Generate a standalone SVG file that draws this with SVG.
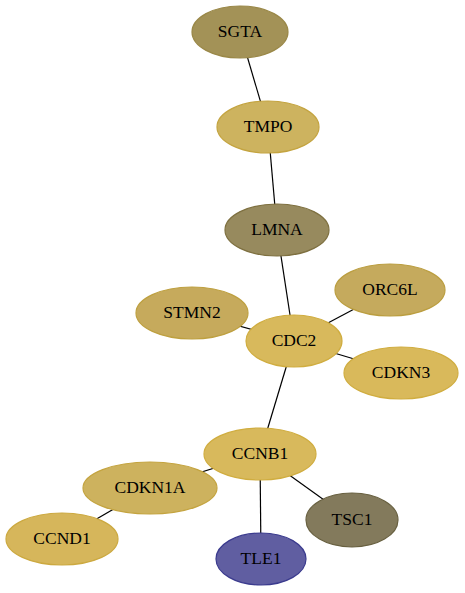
<svg xmlns="http://www.w3.org/2000/svg" width="465" height="593" viewBox="0 0 465 593">
<style>
.e{stroke:#000;stroke-width:1.2;fill:none}
.n ellipse{stroke-width:1.2}
.n text{font-family:"Liberation Serif","Times New Roman",serif;font-size:17.5px;text-anchor:middle;dominant-baseline:central;fill:#000}
</style>
<rect width="465" height="593" fill="#fff"/>
<g id="edges">
<line class="e" x1="240" y1="32" x2="268" y2="127"/>
<line class="e" x1="268" y1="127" x2="277" y2="230"/>
<line class="e" x1="277" y1="230" x2="294" y2="341"/>
<line class="e" x1="390" y1="290" x2="294" y2="341"/>
<line class="e" x1="192" y1="313" x2="294" y2="341"/>
<line class="e" x1="294" y1="341" x2="401" y2="373"/>
<line class="e" x1="294" y1="341" x2="260" y2="454"/>
<line class="e" x1="260" y1="454" x2="150" y2="488"/>
<line class="e" x1="150" y1="488" x2="62" y2="539"/>
<line class="e" x1="260" y1="454" x2="261" y2="559"/>
<line class="e" x1="260" y1="454" x2="352" y2="520"/>
</g>
<g id="SGTA" class="n"><ellipse cx="240" cy="32" rx="48" ry="26" fill="#a39257" stroke="#9a8848"/><text x="240" y="31">SGTA</text></g>
<g id="TMPO" class="n"><ellipse cx="268" cy="127" rx="51" ry="26" fill="#cdb35f" stroke="#c4a440"/><text x="268" y="126">TMPO</text></g>
<g id="LMNA" class="n"><ellipse cx="277" cy="230" rx="52" ry="26" fill="#978a5e" stroke="#7e7040"/><text x="277" y="229">LMNA</text></g>
<g id="ORC6L" class="n"><ellipse cx="390" cy="290" rx="55" ry="26" fill="#c5aa5d" stroke="#bb9e40"/><text x="390" y="289">ORC6L</text></g>
<g id="STMN2" class="n"><ellipse cx="192" cy="313" rx="56" ry="26" fill="#c6aa5c" stroke="#bea040"/><text x="192" y="312">STMN2</text></g>
<g id="CDC2" class="n"><ellipse cx="294" cy="341" rx="48" ry="26" fill="#d8b95c" stroke="#d0ad40"/><text x="294" y="340">CDC2</text></g>
<g id="CDKN3" class="n"><ellipse cx="401" cy="373" rx="57" ry="26" fill="#d9b95b" stroke="#d0ad40"/><text x="401" y="372">CDKN3</text></g>
<g id="CCNB1" class="n"><ellipse cx="260" cy="454" rx="56" ry="26" fill="#d8b95c" stroke="#d0ad40"/><text x="260" y="453">CCNB1</text></g>
<g id="CDKN1A" class="n"><ellipse cx="150" cy="488" rx="67" ry="26" fill="#cdb25e" stroke="#c4a440"/><text x="150" y="487">CDKN1A</text></g>
<g id="TSC1" class="n"><ellipse cx="352" cy="520" rx="46" ry="27" fill="#837a5c" stroke="#686040"/><text x="352" y="519">TSC1</text></g>
<g id="CCND1" class="n"><ellipse cx="62" cy="539" rx="56" ry="26" fill="#d6b65b" stroke="#cca940"/><text x="62" y="538">CCND1</text></g>
<g id="TLE1" class="n"><ellipse cx="261" cy="559" rx="45" ry="26" fill="#605ea1" stroke="#3b3b8e"/><text x="261" y="558">TLE1</text></g>
</svg>
